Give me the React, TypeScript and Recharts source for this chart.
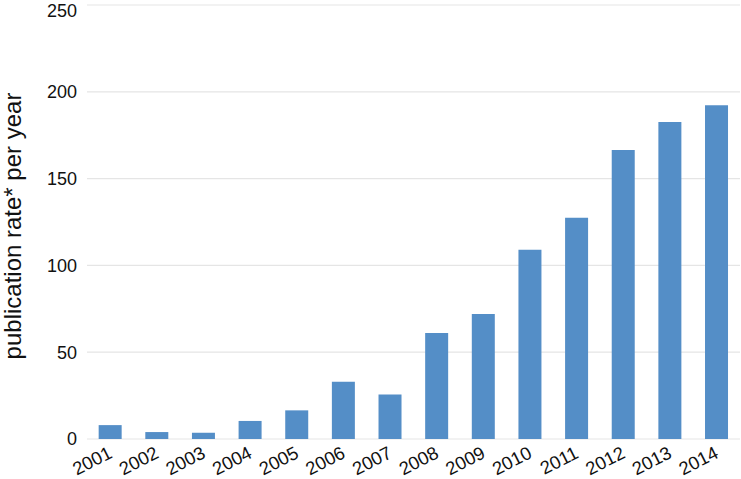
import React from "react";
import { BarChart, Bar, XAxis, YAxis, CartesianGrid, Label } from "recharts";

const years = [
  "2001", "2002", "2003", "2004", "2005", "2006", "2007",
  "2008", "2009", "2010", "2011", "2012", "2013", "2014",
];
const rates = [8, 4, 3.6, 10.4, 16.5, 33, 25.7, 61, 72, 109, 127.5, 166.5, 182.6, 192.2];
const yTicks = [0, 50, 100, 150, 200, 250];

const data = years.map((year, i) => ({ year, rate: rates[i] }));

const FONT = "'Liberation Sans', Arial, Helvetica, sans-serif";

const YearTick = ({ x, y, payload }: any) => (
  <g transform={`translate(${x + 3}, ${y + 10})`}>
    <text
      x={0}
      y={0}
      transform="rotate(-27)"
      textAnchor="end"
      fill="#111"
      fontSize={18.5}
      fontFamily={FONT}
    >
      {payload.value}
    </text>
  </g>
);

const YTitle = () => (
  <text
    x={21}
    y={226}
    transform="rotate(-90, 21, 226)"
    textAnchor="middle"
    fill="#111"
    fontSize={24}
    fontFamily={FONT}
  >
    publication rate* per year
  </text>
);

export default function App() {
  return (
    <div style={{ position: "absolute", left: 0, top: 0, background: "#fff" }}>
      <BarChart
        width={741}
        height={479}
        data={data}
        margin={{ top: 5, right: 1, left: 0, bottom: 0 }}
        barCategoryGap="25%"
      >
        <CartesianGrid vertical={false} stroke="#e5e5e5" strokeWidth={1.2} />
        <XAxis
          dataKey="year"
          axisLine={false}
          tickLine={false}
          height={40}
          interval={0}
          tick={<YearTick />}
        />
        <YAxis
          domain={[0, 250]}
          ticks={yTicks}
          width={87}
          axisLine={false}
          tickLine={false}
          tick={{ fill: "#111", fontSize: 18, fontFamily: FONT }}
          tickMargin={4}
        >
          <Label content={<YTitle />} />
        </YAxis>
        <Bar dataKey="rate" fill="#548ec7" isAnimationActive={false} />
      </BarChart>
    </div>
  );
}
